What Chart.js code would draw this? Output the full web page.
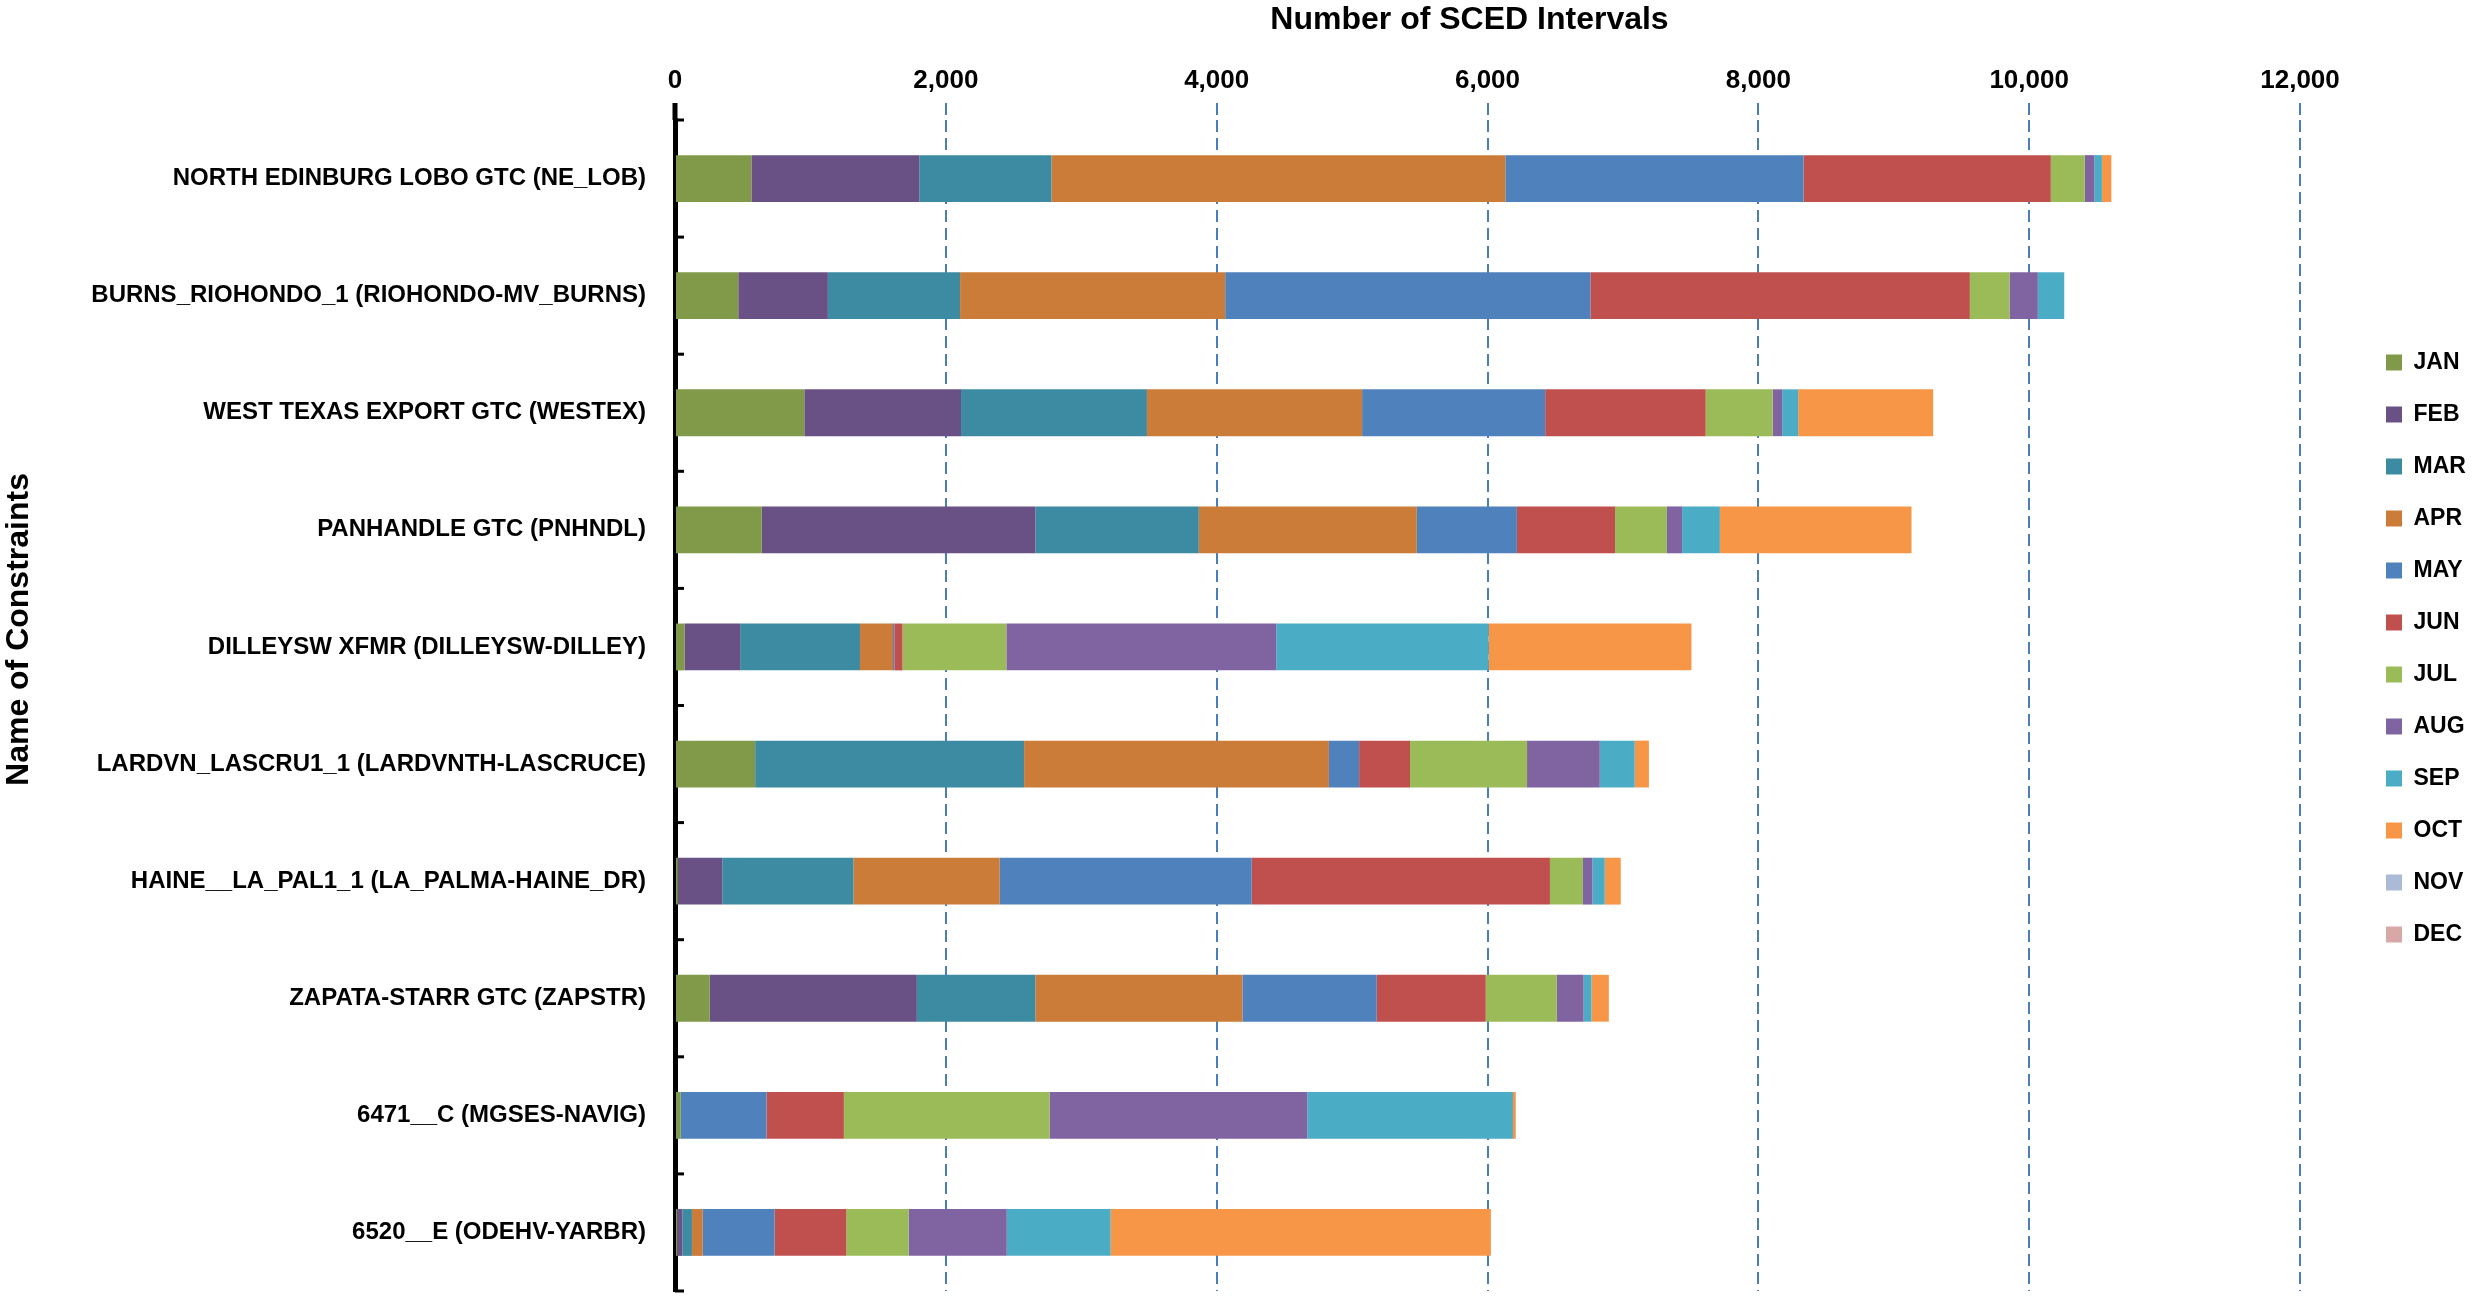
<!DOCTYPE html>
<html>
<head>
<meta charset="utf-8">
<script src="https://cdn.jsdelivr.net/npm/chart.js@4.4.1/dist/chart.umd.min.js"></script>
<style>
html,body{margin:0;padding:0;background:#fff;overflow:hidden;}
#wrap{width:2478px;height:1300px;position:relative;}
</style>
</head>
<body>
<div id="wrap"><canvas id="c"></canvas></div>
<script>
// ---- data ----
const categories = [
  'NORTH EDINBURG LOBO GTC (NE_LOB)',
  'BURNS_RIOHONDO_1 (RIOHONDO-MV_BURNS)',
  'WEST TEXAS EXPORT GTC (WESTEX)',
  'PANHANDLE GTC (PNHNDL)',
  'DILLEYSW XFMR (DILLEYSW-DILLEY)',
  'LARDVN_LASCRU1_1 (LARDVNTH-LASCRUCE)',
  'HAINE__LA_PAL1_1 (LA_PALMA-HAINE_DR)',
  'ZAPATA-STARR GTC (ZAPSTR)',
  '6471__C (MGSES-NAVIG)',
  '6520__E (ODEHV-YARBR)'
];
const months = ['JAN','FEB','MAR','APR','MAY','JUN','JUL','AUG','SEP','OCT','NOV','DEC'];
const JAN = [564, 467, 955, 641, 70, 592, 21, 257, 42, 15];
const FEB = [1240, 662, 1157, 2021, 411, 0, 328, 1529, 0, 40];
const MAR = [976, 976, 1373, 1206, 885, 1986, 969, 875, 0, 70];
const APR = [3352, 1958, 1589, 1610, 244, 2251, 1080, 1529, 0, 80];
const MAY = [2202, 2697, 1352, 739, 10, 223, 1861, 992, 634, 530];
const JUN = [1826, 2802, 1185, 725, 60, 376, 2202, 805, 571, 530];
const JUL = [251, 293, 495, 383, 767, 864, 244, 525, 1519, 460];
const AUG = [70, 209, 70, 112, 1993, 537, 70, 198, 1903, 725];
const SEP = [56, 195, 118, 279, 1568, 258, 91, 58, 1519, 767];
const OCT = [70, 0, 997, 1415, 1498, 105, 118, 128, 21, 2808];
const NOV = [0, 0, 0, 0, 0, 0, 0, 0, 0, 0];
const DEC = [0, 0, 0, 0, 0, 0, 0, 0, 0, 0];
const xTickValues = [0, 2000, 4000, 6000, 8000, 10000, 12000];
const xTitle = 'Number of SCED Intervals';
const yTitle = 'Name of Constraints';

// ---- styles ----
const seriesData = [JAN, FEB, MAR, APR, MAY, JUN, JUL, AUG, SEP, OCT, NOV, DEC];
const colors = ['#809A4A','#6A5185','#3D8BA2','#CC7C39','#4F81BC','#C0504D',
                '#9BBB59','#8064A2','#4BACC6','#F79646','#AABAD7','#D8A8A7'];
const FONT = '"Liberation Sans", Arial, sans-serif';
const GRID = '#4A7EBB';

const datasets = months.map((m, i) => ({
  label: m,
  data: seriesData[i],
  backgroundColor: colors[i],
  borderWidth: 0,
  barPercentage: 0.4,
  categoryPercentage: 1.0
}));

const axisDecor = {
  id: 'axisDecor',
  afterDatasetsDraw(chart) {
    const ys = chart.scales.y, ca = chart.chartArea, ctx = chart.ctx;
    const n = categories.length;
    const pts = [ca.top, ca.bottom];
    for (let i = 1; i < n; i++) pts.push((ys.getPixelForValue(i - 1) + ys.getPixelForValue(i)) / 2);
    ctx.save();
    ctx.strokeStyle = '#000';
    ctx.lineWidth = 3;
    pts.forEach(p => { ctx.beginPath(); ctx.moveTo(ca.left, p); ctx.lineTo(ca.left + 9, p); ctx.stroke(); });
    ctx.lineWidth = 5;
    ctx.beginPath(); ctx.moveTo(ca.left, ca.top - 17); ctx.lineTo(ca.left, ca.top); ctx.stroke();
    ctx.restore();
  }
};

// place legend and titles the way the original layout has them
const placeBoxes = {
  id: 'placeBoxes',
  afterLayout(chart) {
    const lg = chart.legend;
    if (lg) {
      const w = lg.width, h = lg.height;
      lg.left = 2357; lg.right = lg.left + w;
      lg.top = 322; lg.bottom = lg.top + h;
    }
    const tb = chart.titleBlock;
    if (tb) { tb.top -= 16; tb.bottom -= 16; }
    chart.boxes.forEach(b => {
      if (b !== tb && b.options && b.options.text === xTitle) {
        const cx = chart.chartArea.left + (chart.chartArea.right - chart.chartArea.left) / 2 - 18;
        const half = (b.right - b.left) / 2;
        b.left = cx - half; b.right = cx + half;
      }
    });
  }
};

const chart = new Chart(document.getElementById('c'), {
  type: 'bar',
  data: { labels: categories, datasets },
  plugins: [axisDecor, placeBoxes],
  options: {
    indexAxis: 'y',
    responsive: true,
    maintainAspectRatio: false,
    animation: false,
    layout: { padding: { left: 0, right: 60, top: 0, bottom: 9 } },
    plugins: {
      title: {
        display: true,
        position: 'left',
        text: yTitle,
        color: '#000',
        padding: 0,
        font: { family: FONT, size: 32, weight: 'bold' }
      },
      subtitle: {
        display: true,
        position: 'top',
        text: xTitle,
        color: '#000',
        padding: { top: 1, bottom: 0 },
        font: { family: FONT, size: 32, weight: 'bold' }
      },
      legend: {
        position: 'right',
        align: 'start',
        labels: {
          boxWidth: 16, boxHeight: 16, padding: 29,
          color: '#000',
          font: { family: FONT, size: 23, weight: 'bold' }
        }
      },
      tooltip: { enabled: false }
    },
    scales: {
      x: {
        position: 'top',
        stacked: true,
        min: 0, max: 12000,
        afterBuildTicks(scale) { scale.ticks = xTickValues.map(v => ({ value: v })); },
        afterFit(scale) { scale.height = 120 - 39.4; },
        border: { display: false, dash: [12, 6] },
        grid: {
          color: c => c.tick && c.tick.value === 0 ? 'rgba(0,0,0,0)' : GRID,
          lineWidth: 2,
          drawTicks: true,
          tickLength: 17,
          tickWidth: 2,
          tickColor: c => c.tick && c.tick.value === 0 ? 'rgba(0,0,0,0)' : GRID,
          tickBorderDash: [12, 6]
        },
        ticks: {
          color: '#000',
          padding: 7,
          font: { family: FONT, size: 26, weight: 'bold' },
          callback: v => Number(v).toLocaleString('en-US')
        },
        title: { display: false }
      },
      y: {
        stacked: true,
        afterFit(scale) {
          const t = scale.chart.titleBlock;
          scale.width = 675 - (t && t.width ? t.width : 38.4);
          scale.paddingTop = 0;
          scale.paddingBottom = 0;
        },
        border: { display: true, color: '#000', width: 5 },
        grid: { display: true, drawOnChartArea: false, drawTicks: false },
        ticks: {
          color: '#000',
          padding: 29,
          font: { family: FONT, size: 24, weight: 'bold' }
        },
        title: { display: false }
      }
    }
  }
});
// align plot area right edge with 12,000 position
const d = chart.chartArea.right - 2300;
chart.options.layout.padding.right += d;
chart.update('none');
</script>
</body>
</html>
